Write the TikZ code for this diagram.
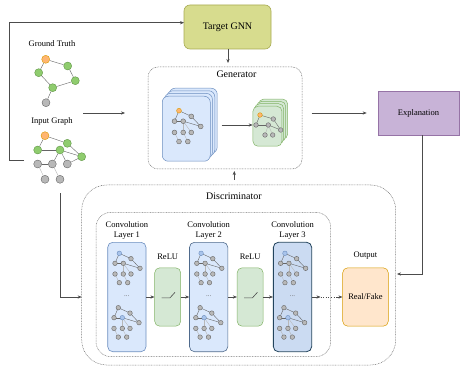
\documentclass[tikz,border=0pt]{standalone}
\usepackage{fontspec}
\setmainfont{Liberation Serif}
\usetikzlibrary{arrows.meta,calc}
\definecolor{tgF}{HTML}{D7DC8E}
\definecolor{tgD}{HTML}{A7AB52}
\definecolor{exF}{HTML}{C8B3D7}
\definecolor{exD}{HTML}{9673A6}
\definecolor{bF}{HTML}{DAE8FC}
\definecolor{bD}{HTML}{6C8EBF}
\definecolor{gF}{HTML}{D5E8D4}
\definecolor{gD}{HTML}{82B366}
\definecolor{oF}{HTML}{FFE6CC}
\definecolor{oD}{HTML}{D79B00}
\definecolor{nO}{HTML}{FFB570}
\definecolor{nOD}{HTML}{D79B00}
\definecolor{nG}{HTML}{8FCC6E}
\definecolor{nGD}{HTML}{5F9645}
\definecolor{nY}{HTML}{B8B8B8}
\definecolor{nYD}{HTML}{666666}
\definecolor{nB}{HTML}{A9C4EB}
\definecolor{l2D}{HTML}{4F6A8C}
\definecolor{l3F}{HTML}{CBDBF2}
\definecolor{l3D}{HTML}{23445D}
\tikzset{
  ln/.style={line width=0.5pt, draw=black!70},
  arr/.style={ln, -{Stealth[length=4pt,width=3.2pt]}},
  dotbox/.style={draw=black!55, line width=0.5pt, dash pattern=on 0.8pt off 0.8pt},
  lbl/.style={font=\fontsize{8.5}{10.5}\selectfont, inner sep=0pt, align=center},
  ttl/.style={font=\fontsize{10}{12}\selectfont, inner sep=0pt},
  gedge/.style={draw=nYD, line width=0.4pt},
  gedgel/.style={draw=nY, line width=0.4pt},
  gnode/.style={fill=nY, draw=nYD, line width=0.4pt},
  onode/.style={fill=nO, draw=nOD, line width=0.4pt},
  bnode/.style={fill=nB, draw=bD, line width=0.4pt},
  bigO/.style={circle, minimum size=8pt, inner sep=0pt, fill=nO, draw=nOD, line width=0.4pt},
  bigG/.style={circle, minimum size=8pt, inner sep=0pt, fill=nG, draw=nGD, line width=0.4pt},
  bigY/.style={circle, minimum size=8pt, inner sep=0pt, fill=nY, draw=nYD, line width=0.4pt},
  bcard/.style={fill=bF, draw=bD, line width=0.5pt, rounded corners=6pt},
  gcard/.style={fill=gF, draw=gD, line width=0.5pt, rounded corners=5pt},
  convbox/.style={fill=bF, draw=bD, line width=0.6pt, rounded corners=5pt, minimum width=38.3pt, minimum height=109.4pt, inner sep=0pt},
  relubox/.style={fill=gF, draw=gD, line width=0.5pt, rounded corners=5pt, minimum width=26pt, minimum height=58.4pt, inner sep=0pt},
}
\newcommand{\mgraph}[5]{%
  \begin{scope}[shift={(#1,#2)},scale=#3]
    \coordinate (q1) at (0,0);
    \coordinate (q2) at (11.7,5.4);
    \coordinate (q3) at (-4.3,10);
    \coordinate (q4) at (4,10);
    \coordinate (q5) at (20.7,15);
    \coordinate (q6) at (-4.3,20.7);
    \coordinate (q7) at (4,20.7);
    \coordinate (q8) at (11.7,20.7);
    \coordinate (q9) at (0,29.4);
    \coordinate (q10) at (8.4,29.4);
    \foreach \u/\v in {1/2,1/3,3/4,4/5,2/5}{\draw[gedge] (q\u) -- (q\v);}
    \foreach \u/\v in {4/8,6/9,7/10,4/7}{\draw[gedgel] (q\u) -- (q\v);}
    \foreach \i in {2,3,5,6,7,8,9,10}{\draw[gnode] (q\i) circle[radius=2.3];}
    \draw[#4] (q1) circle[radius=2.3];
    \draw[#5] (q4) circle[radius=2.3];
  \end{scope}}
\begin{document}
\begin{tikzpicture}[x=1pt,y=-1pt]
\useasboundingbox (0,0) rectangle (460,366);

% ---------- Target GNN
\node[fill=tgF, draw=tgD, line width=0.6pt, rounded corners=6pt, minimum width=87pt, minimum height=44pt, ttl] (tgnn) at (227.5,27) {Target GNN};

% ---------- Ground truth graph
\node[lbl] (gtl) at (52,44) {Ground Truth};
\node[bigO] (t1) at (45.7,59.3) {};
\node[bigG] (t2) at (67.7,66) {};
\node[bigG] (t3) at (38.7,72.7) {};
\node[bigG] (t4) at (75.3,80.7) {};
\node[bigG] (t5) at (52.7,87.7) {};
\node[bigY] (t6) at (46,102.7) {};
\foreach \a/\b in {t1/t2,t1/t3,t2/t4,t3/t5,t4/t5,t5/t6}{\draw[gedge] (\a) -- (\b);}

% ---------- Input graph
\node[lbl] (igl) at (52,121) {Input Graph};
\node[bigO] (i1) at (45,135.7) {};
\node[bigG] (i2) at (67.3,143.3) {};
\node[bigG] (i3) at (37.7,150) {};
\node[bigG] (i4) at (60,150) {};
\node[bigG] (i5) at (81.7,156.7) {};
\node[bigY] (i6) at (37.7,164) {};
\node[bigY] (i7) at (52.3,164) {};
\node[bigY] (i8) at (67.3,164) {};
\node[bigY] (i9) at (45,179.3) {};
\node[bigY] (i10) at (60,179.3) {};
\foreach \a/\b in {i1/i2,i1/i3,i3/i4,i2/i5,i4/i5,i4/i7,i6/i7,i8/i5,i4/i8}{\draw[gedge] (\a) -- (\b);}
\foreach \a/\b in {i6/i9,i7/i10}{\draw[gedgel] (\a) -- (\b);}

% ---------- Generator
\node[dotbox, rounded corners=10pt, minimum width=154pt, minimum height=102pt] (gen) at (225,118) {};
\node[ttl] (genl) at (236.5,74) {Generator};
\foreach \k in {3,2,1}{\draw[bcard] ($(162,96)+(\k*2.4,-\k*2.6)$) rectangle ++(48,65);}
\node[bcard, minimum width=48pt, minimum height=65pt, anchor=north west, inner sep=0pt] (bfront) at (162,96) {};
\mgraph{179}{110.7}{1.05}{onode}{gnode}
\foreach \k in {3,2,1}{\draw[gcard] ($(252.7,106)+(\k*2,-\k*2.3)$) rectangle ++(29,40);}
\node[gcard, minimum width=29pt, minimum height=40pt, anchor=north west, inner sep=0pt] (gfront) at (252.7,106) {};
\begin{scope}[shift={(260,115)}]
  \coordinate (p1) at (0,0);
  \coordinate (p2) at (13.3,4);
  \coordinate (p3) at (-4,10);
  \coordinate (p4) at (8.3,10);
  \coordinate (p5) at (20.7,15);
  \coordinate (p7) at (5,20);
  \coordinate (p8) at (12.7,20);
  \foreach \u/\v in {1/2,1/3,3/4,2/5,4/5}{\draw[gedge] (p\u) -- (p\v);}
  \foreach \u/\v in {4/7,4/8}{\draw[gedgel] (p\u) -- (p\v);}
  \foreach \i in {2,3,4,5,7,8}{\draw[gnode] (p\i) circle[radius=2.3];}
  \draw[onode] (p1) circle[radius=2.3];
\end{scope}
\coordinate (bgout) at (221.7,125);
\draw[arr] (bgout) -- (bgout -| gfront.west);

% ---------- Explanation
\node[fill=exF, draw=exD, line width=0.6pt, minimum width=81pt, minimum height=44pt, lbl] (expl) at (418.5,113) {Explanation};

% ---------- Discriminator
\node[dotbox, rounded corners=25pt, minimum width=314pt, minimum height=180pt] (disc) at (238.7,275) {};
\node[ttl] (discl) at (234,196) {Discriminator};
\node[dotbox, rounded corners=15pt, minimum width=234.7pt, minimum height=144.4pt] (inner) at (213.35,284.5) {};

\node[convbox] (c1) at (126.85,297) {};
\node[convbox, draw=l2D] (c2) at (208.65,297) {};
\node[convbox, fill=l3F, draw=l3D, line width=0.8pt] (c3) at (292.5,297) {};
\node[relubox] (r1) at (167.7,297) {};
\node[relubox] (r2) at (250.15,297) {};
\node[fill=oF, draw=oD, line width=0.5pt, rounded corners=5pt, minimum width=45.6pt, minimum height=58.4pt, inner sep=0pt, lbl] (out) at (365.5,297) {Real/Fake};

\node[lbl] (c1l) at (126.85,230.5) {Convolution\\Layer 1};
\node[lbl] (c2l) at (208.65,230.5) {Convolution\\Layer 2};
\node[lbl] (c3l) at (292.5,230.5) {Convolution\\Layer 3};
\node[lbl] (r1l) at (167.7,257) {ReLU};
\node[lbl] (r2l) at (250.15,257) {ReLU};
\node[lbl] (outl) at (365.5,256) {Output};

\foreach \c/\dx in {c1/0,c2/81.8,c3/165.65}{
  \mgraph{119.3+\dx}{253.3}{1}{bnode}{gnode}
  \mgraph{118.3+\dx}{307.7}{1}{gnode}{bnode}
  \node[font=\fontsize{7}{8}\selectfont, text=black!60, inner sep=0pt] at ($(\c.center)+(0,-1)$) {...};
}
\foreach \r in {r1,r2}{
  \draw[ln, line width=0.6pt] ($(\r.center)+(-6,0.8)$) -- ++(8.3,0) -- ++(5,-5.5);
}

\draw[arr] (c1.east) -- (r1.west);
\draw[arr] (r1.east) -- (c2.west);
\draw[arr] (c2.east) -- (r2.west);
\draw[arr] (r2.east) -- (c3.west);
\coordinate (d1) at (320.5,297);
\coordinate (d2) at (336,297);
\draw[arr] (c3.east) -- (d1);
\draw[ln, dash pattern=on 1pt off 1.6pt, line width=0.8pt] (d1) -- (d2);
\draw[arr] (d2) -- (out.west);

% ---------- Connectors
\coordinate (ig0) at (24,160);
\coordinate (lft) at (9,160);
\coordinate (tgin) at (184,22.7);
\draw[arr] (ig0) -- (lft) |- (tgin);
\coordinate (tgb) at (228,49);
\coordinate (gent) at (228,63);
\draw[arr] (tgb) -- (gent);
\coordinate (ia) at (83,113);
\coordinate (ib) at (125,113);
\draw[arr] (ia) -- (ib);
\coordinate (ga) at (311.7,113);
\coordinate (gb) at (366.7,113);
\draw[arr] (ga) -- (gb);
\coordinate (ec) at (422.3,274);
\coordinate (ed) at (397,274);
\draw[arr] (expl.south -| ec) -- (ec) -- (ed);
\coordinate (du) at (234.3,180);
\coordinate (gu) at (234.3,171);
\draw[arr] (du) -- (gu);
\coordinate (ld) at (60,193);
\coordinate (le) at (81.7,297);
\draw[arr] (ld) |- (le);
\end{tikzpicture}
\end{document}
